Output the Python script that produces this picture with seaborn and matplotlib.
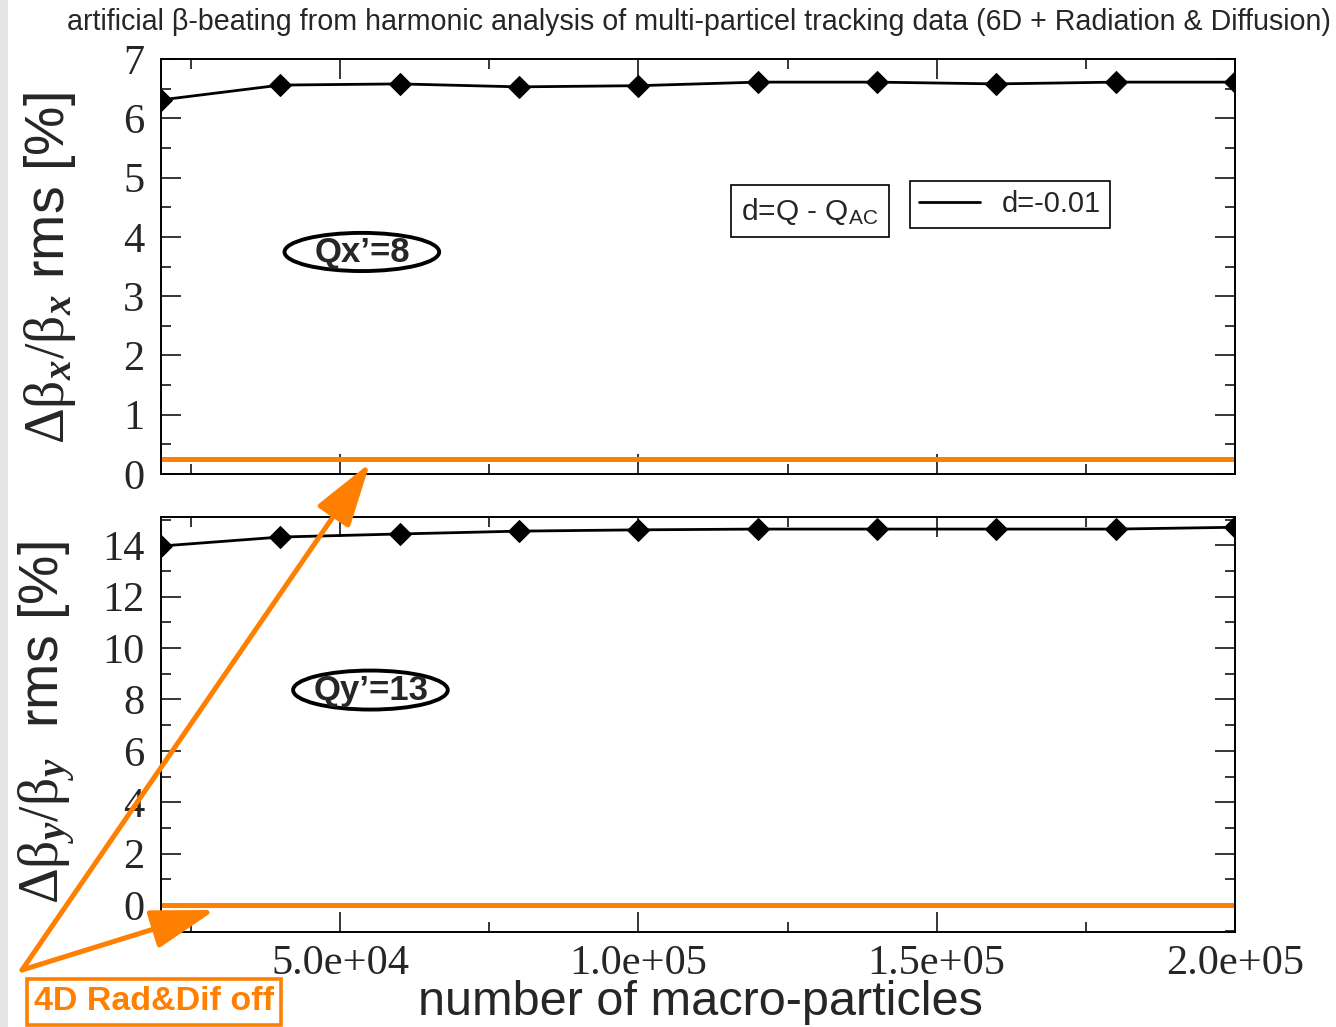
import numpy as np
import pandas as pd
import matplotlib
matplotlib.use("Agg")
import matplotlib.pyplot as plt
import seaborn as sns
from matplotlib.patches import Ellipse, Rectangle
from matplotlib.lines import Line2D
from matplotlib.ticker import MultipleLocator, FormatStrFormatter

# ---------------- data ----------------
n_particles = [20000, 40000, 60000, 80000, 100000, 120000, 140000, 160000, 180000, 200000]
beat_x_6d = [6.31, 6.56, 6.58, 6.53, 6.55, 6.61, 6.61, 6.58, 6.61, 6.61]
beat_y_6d = [13.97, 14.32, 14.44, 14.55, 14.60, 14.63, 14.63, 14.63, 14.63, 14.70]
beat_x_4d = [0.25] * len(n_particles)
beat_y_4d = [0.0] * len(n_particles)
x_ticks = [50000, 100000, 150000, 200000]

title = "artificial \u03b2-beating from harmonic analysis of multi-particel tracking data (6D + Radiation & Diffusion)"

sns.set_style("ticks")
plt.rcParams['font.family'] = ['Liberation Sans', 'DejaVu Sans']
plt.rcParams['mathtext.fontset'] = 'custom'
plt.rcParams['mathtext.rm'] = 'Liberation Serif'
plt.rcParams['mathtext.it'] = 'Liberation Serif:italic:bold'
plt.rcParams['mathtext.bf'] = 'Liberation Serif:bold'
plt.rcParams['mathtext.sf'] = 'Liberation Sans'

df = pd.DataFrame({"n": n_particles, "bx": beat_x_6d, "by": beat_y_6d,
                   "bx4": beat_x_4d, "by4": beat_y_4d})

W, H = 1336, 1027
fig = plt.figure(figsize=(W / 100, H / 100), dpi=100)
fig.patch.set_facecolor("white")

L, R = 161, 1235
def axrect(top, bottom):
    return [L / W, 1 - bottom / H, (R - L) / W, (bottom - top) / H]

ax1 = fig.add_axes(axrect(59, 474))
ax2 = fig.add_axes(axrect(517, 932))

orange = "#FF8000"
for ax, col, col4 in [(ax1, "bx", "bx4"), (ax2, "by", "by4")]:
    sns.lineplot(data=df, x="n", y=col4, ax=ax, color=orange, lw=3.6, zorder=2)
    sns.lineplot(data=df, x="n", y=col, ax=ax, color="black", lw=2.0,
                 marker="D", markersize=11, markeredgecolor="black", zorder=3)
    ax.set_xlim(20000, 200000)
    ax.xaxis.set_major_locator(MultipleLocator(50000))
    ax.xaxis.set_minor_locator(MultipleLocator(25000))
    ax.xaxis.set_major_formatter(FormatStrFormatter('%.1e'))
    ax.tick_params(which='both', direction='in', top=True, right=True, width=1.1, color='black')
    ax.tick_params(which='major', length=14.5)
    ax.tick_params(which='minor', length=7.5)
    ax.tick_params(axis='y', which='major', pad=12)
    ax.tick_params(axis='x', which='major', pad=9)
    for s in ax.spines.values():
        s.set_linewidth(1.4)
        s.set_color('black')
    ax.set_xlabel("")

ax1.set_ylim(0, 7)
ax1.yaxis.set_major_locator(MultipleLocator(1))
ax1.yaxis.set_minor_locator(MultipleLocator(0.5))
ax1.tick_params(axis='x', labelbottom=False)

ax2.set_ylim(-1.05, 15.1)
ax2.yaxis.set_major_locator(MultipleLocator(2))
ax2.yaxis.set_minor_locator(MultipleLocator(1))
ax2.set_xticks(x_ticks)

for ax in (ax1, ax2):
    for lab in ax.get_xticklabels() + ax.get_yticklabels():
        lab.set_fontfamily('Liberation Serif')
        lab.set_fontsize(30.5)

ax1.set_ylabel(r"$\mathrm{\Delta\beta}_{x}/\mathrm{\beta}_{x}$ rms [%]", fontsize=40)
ax2.set_ylabel(r"$\mathrm{\Delta\beta}_{y}/\mathrm{\beta}_{y}$  rms [%]", fontsize=40)
ax1.yaxis.set_label_coords(-0.077, 0.495)
ax2.yaxis.set_label_coords(-0.077, 0.505)
ax2.set_xlabel("number of macro-particles", fontsize=35)
ax2.xaxis.set_label_coords(0.502, -0.115)

# legend
h = Line2D([], [], color="black", lw=2.0)
leg = ax1.legend([h], ["d=-0.01"], loc="upper left", bbox_to_anchor=(0.697, 0.706),
                 borderaxespad=0, fancybox=False, framealpha=1, edgecolor="black",
                 fontsize=21, handlelength=2.1, borderpad=0.32, handletextpad=0.75)
leg.get_frame().set_linewidth(1.2)
ax1.text(0.604, 0.633, r"d=Q - Q$_{\mathsf{AC}}$", transform=ax1.transAxes, fontsize=21.5,
         ha="center", va="center",
         bbox=dict(boxstyle="square,pad=0.35", fc="white", ec="black", lw=1.2))

# ellipse labels
ax1.add_patch(Ellipse((0.187, 0.535), 0.144, 0.092, transform=ax1.transAxes,
                      fill=False, ec="black", lw=2.8, zorder=4))
ax1.text(0.188, 0.533, "Qx\u2019=8", transform=ax1.transAxes, fontsize=25,
         fontweight="bold", ha="center", va="center", zorder=5)
ax2.add_patch(Ellipse((0.195, 0.583), 0.144, 0.094, transform=ax2.transAxes,
                      fill=False, ec="black", lw=2.8, zorder=4))
ax2.text(0.196, 0.581, "Qy\u2019=13", transform=ax2.transAxes, fontsize=25,
         fontweight="bold", ha="center", va="center", zorder=5)

# title
fig.text(699 / W, 1 - 22 / H, title, fontsize=20.6, ha="center", va="center")

# left gray strip
fig.add_artist(Rectangle((0, 0), 8 / W, 1, transform=fig.transFigure,
                         color="#e4e4e4", lw=0, zorder=0))

# orange arrows and annotation box
start = (22, H - 970)
for tip in [(370, H - 463), (215, H - 910)]:
    fig.add_artist(matplotlib.patches.FancyArrowPatch(
        start, tip, transform=None, arrowstyle="-|>,head_length=1.8,head_width=0.55",
        mutation_scale=22, color=orange, lw=3.6, shrinkA=0, shrinkB=0, zorder=10))
fig.text(154 / W, 1 - 1002 / H, "4D Rad&Dif off", color=orange, fontsize=24.5,
         fontweight="bold", ha="center", va="center",
         bbox=dict(boxstyle="square,pad=0.22", fc="white", ec=orange, lw=2.6))

fig.savefig("out.png", dpi=100)
